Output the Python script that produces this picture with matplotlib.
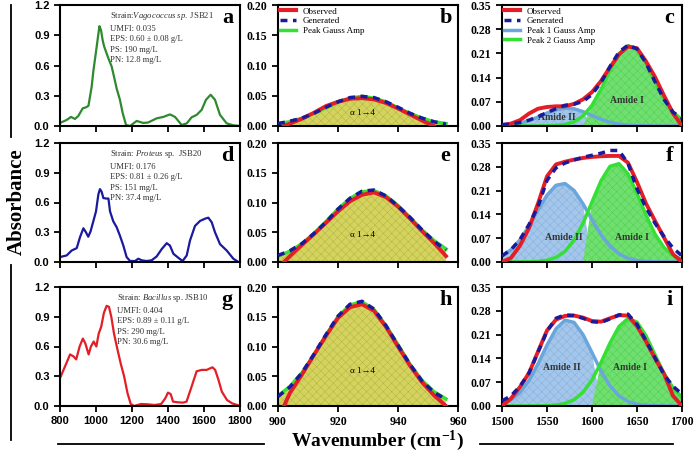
import numpy as np
import matplotlib.pyplot as plt
from matplotlib.lines import Line2D

plt.rcParams['mathtext.fontset'] = 'custom'
plt.rcParams['mathtext.rm'] = 'Liberation Serif'
plt.rcParams['mathtext.it'] = 'Liberation Serif:italic'
plt.rcParams['mathtext.bf'] = 'Liberation Serif:bold'
plt.rcParams['hatch.linewidth'] = 0.35

# ---- full FTIR spectra (left column) ----
wn_a = [800, 837, 861, 883, 902, 926, 944, 958, 976, 985, 1004, 1019, 1028, 1037, 1045,
        1059, 1069, 1087, 1100, 1115, 1133, 1148, 1167, 1189, 1226, 1263, 1290, 1337,
        1374, 1411, 1439, 1476, 1504, 1531, 1559, 1587, 1611, 1637, 1661, 1689, 1726,
        1763, 1800]
abs_a = [0.03, 0.06, 0.09, 0.07, 0.10, 0.175, 0.185, 0.20, 0.39, 0.54, 0.79, 0.99, 0.95,
         0.85, 0.79, 0.72, 0.67, 0.59, 0.49, 0.37, 0.26, 0.13, 0.01, 0.0, 0.05, 0.03,
         0.035, 0.076, 0.09, 0.115, 0.09, 0.01, 0.026, 0.086, 0.11, 0.16, 0.26, 0.31,
         0.26, 0.11, 0.026, 0.007, 0.0]

wn_d = [800, 837, 865, 893, 911, 930, 944, 957, 970, 985, 1000, 1013, 1022, 1031, 1041,
        1056, 1069, 1078, 1096, 1115, 1133, 1152, 1170, 1189, 1217, 1235, 1254, 1281,
        1309, 1337, 1365, 1393, 1411, 1430, 1457, 1481, 1504, 1522, 1550, 1578, 1606,
        1624, 1643, 1661, 1689, 1726, 1763, 1791, 1800]
abs_d = [0.05, 0.066, 0.116, 0.14, 0.25, 0.34, 0.30, 0.255, 0.31, 0.41, 0.51, 0.68, 0.735,
         0.71, 0.645, 0.64, 0.64, 0.51, 0.41, 0.35, 0.265, 0.165, 0.05, 0.01, 0.01, 0.033,
         0.017, 0.01, 0.017, 0.056, 0.13, 0.19, 0.165, 0.083, 0.043, 0.01, 0.066, 0.215,
         0.364, 0.414, 0.437, 0.447, 0.40, 0.30, 0.18, 0.116, 0.033, 0.0, 0.0]

wn_g = [800, 828, 856, 875, 890, 909, 927, 941, 959, 972, 987, 1002, 1015, 1029, 1044,
        1059, 1072, 1085, 1100, 1118, 1137, 1156, 1175, 1193, 1212, 1250, 1287, 1325,
        1362, 1385, 1400, 1415, 1428, 1456, 1484, 1503, 1531, 1559, 1587, 1615, 1634,
        1647, 1662, 1681, 1699, 1728, 1756, 1784, 1800]
abs_g = [0.28, 0.40, 0.52, 0.50, 0.47, 0.60, 0.68, 0.63, 0.52, 0.60, 0.65, 0.60, 0.73,
         0.80, 0.94, 1.01, 1.0, 0.90, 0.73, 0.58, 0.43, 0.30, 0.13, 0.02, 0.0, 0.02,
         0.017, 0.01, 0.02, 0.078, 0.135, 0.12, 0.044, 0.037, 0.034, 0.044, 0.195, 0.35,
         0.364, 0.364, 0.38, 0.39, 0.364, 0.26, 0.145, 0.06, 0.027, 0.01, 0.003]

# ---- alpha 1->4 band fits (middle column) ----
wn_fit = [900, 904, 908, 912, 916, 920, 924, 928, 932, 936, 940, 944, 948, 952, 956]
gauss_b = [0.004, 0.007, 0.013, 0.021, 0.030, 0.040, 0.046, 0.049, 0.046, 0.040, 0.030,
           0.021, 0.013, 0.007, 0.004]
gen_b = [0.004, 0.008, 0.013, 0.021, 0.031, 0.040, 0.047, 0.049, 0.047, 0.040, 0.031,
         0.021, 0.013, 0.007, 0.003]
wn_obs_b = [902, 904, 908, 912, 916, 920, 924, 928, 932, 936, 940, 944, 948, 952]
obs_b = [0.0, 0.004, 0.012, 0.022, 0.033, 0.040, 0.045, 0.046, 0.044, 0.038, 0.029,
         0.019, 0.009, 0.0]

gauss_e = [0.010, 0.018, 0.031, 0.048, 0.068, 0.089, 0.107, 0.118, 0.120, 0.111, 0.095,
           0.075, 0.054, 0.036, 0.022]
gen_e = [0.011, 0.019, 0.031, 0.048, 0.067, 0.089, 0.107, 0.119, 0.121, 0.111, 0.094,
         0.075, 0.054, 0.035, 0.020]
wn_obs = [902, 904, 908, 912, 916, 920, 924, 928, 932, 936, 940, 944, 948, 952, 956]
obs_e = [0.0, 0.010, 0.029, 0.047, 0.066, 0.085, 0.102, 0.113, 0.117, 0.109, 0.093,
         0.073, 0.052, 0.032, 0.010]

gauss_h = [0.017, 0.033, 0.056, 0.086, 0.119, 0.150, 0.170, 0.175, 0.162, 0.135, 0.103,
           0.070, 0.043, 0.024, 0.012]
gen_h = [0.016, 0.032, 0.056, 0.087, 0.120, 0.151, 0.171, 0.176, 0.163, 0.135, 0.102,
         0.070, 0.042, 0.023, 0.011]
obs_h = [0.0, 0.022, 0.053, 0.086, 0.118, 0.148, 0.166, 0.171, 0.160, 0.133, 0.100,
         0.068, 0.040, 0.018, 0.0]

# ---- amide band fits (right column) ----
wn_am = [1500, 1510, 1520, 1530, 1540, 1550, 1560, 1570, 1580, 1590, 1600, 1610, 1620,
         1630, 1640, 1650, 1660, 1670, 1680, 1690, 1700]
p1_c = [0.0015, 0.0037, 0.0081, 0.0155, 0.0258, 0.0373, 0.0471, 0.0519, 0.0498, 0.0416,
        0.0304, 0.0193, 0.0107, 0.0052, 0.0022, 0.0008, 0.0003, 0.0001, 0.0, 0.0, 0.0]
p2_c = [0.0, 0.0, 0.0, 0.0, 0.0001, 0.0004, 0.0013, 0.0043, 0.0121, 0.0291, 0.060, 0.106,
        0.161, 0.209, 0.232, 0.222, 0.182, 0.128, 0.077, 0.040, 0.018]
gen_c = [0.004, 0.006, 0.010, 0.017, 0.027, 0.039, 0.050, 0.060, 0.063, 0.071, 0.091,
         0.126, 0.172, 0.214, 0.234, 0.223, 0.182, 0.128, 0.077, 0.040, 0.022]
obs_c = [0.002, 0.007, 0.017, 0.036, 0.050, 0.055, 0.057, 0.057, 0.064, 0.077, 0.098,
         0.130, 0.170, 0.207, 0.230, 0.225, 0.187, 0.142, 0.088, 0.037, 0.0]

p1_f = [0.0176, 0.0359, 0.0652, 0.1056, 0.1526, 0.1965, 0.2255, 0.2308, 0.2105, 0.1712,
        0.1241, 0.0802, 0.0462, 0.0237, 0.0109, 0.0044, 0.0016, 0.0005, 0.0001, 0.0, 0.0]
p2_f = [0.0, 0.0, 0.0001, 0.0005, 0.0016, 0.005, 0.0134, 0.0313, 0.064, 0.1138, 0.1765,
        0.2387, 0.2814, 0.2892, 0.2591, 0.2024, 0.1379, 0.0819, 0.0424, 0.0191, 0.0075]
gen_f = [0.018, 0.036, 0.066, 0.110, 0.163, 0.240, 0.277, 0.291, 0.300, 0.308, 0.314,
         0.320, 0.328, 0.328, 0.290, 0.215, 0.160, 0.114, 0.075, 0.041, 0.018]
obs_f = [0.0, 0.012, 0.048, 0.100, 0.172, 0.252, 0.287, 0.295, 0.301, 0.306, 0.309,
         0.311, 0.312, 0.312, 0.292, 0.235, 0.172, 0.121, 0.072, 0.023, 0.0]

p1_i = [0.0075, 0.0184, 0.0397, 0.0748, 0.1237, 0.179, 0.227, 0.2525, 0.2459, 0.2099,
        0.1569, 0.1027, 0.059, 0.0296, 0.0131, 0.005, 0.0017, 0.0005, 0.0001, 0.0, 0.0]
p2_i = [0.0, 0.0, 0.0, 0.0, 0.0002, 0.0008, 0.0026, 0.0074, 0.0185, 0.0404, 0.0769,
        0.1278, 0.1851, 0.2338, 0.2573, 0.2469, 0.2067, 0.1507, 0.0958, 0.0531, 0.0257]
gen_i = [0.015, 0.030, 0.058, 0.097, 0.158, 0.220, 0.258, 0.268, 0.266, 0.258, 0.248,
         0.246, 0.256, 0.268, 0.270, 0.240, 0.192, 0.142, 0.092, 0.058, 0.035]
obs_i = [0.0, 0.022, 0.056, 0.097, 0.160, 0.222, 0.254, 0.265, 0.266, 0.260, 0.250,
         0.248, 0.258, 0.267, 0.266, 0.235, 0.190, 0.140, 0.095, 0.030, 0.0]

strain_text = [
    'Strain:$\\it{Vagococcus\\ sp.}$ JSB21\nUMFI: 0.035\nEPS: 0.60 ± 0.08 g/L\nPS: 190 mg/L\nPN: 12.8 mg/L',
    'Strain: $\\it{Proteus}$ sp.  JSB20\nUMFI: 0.176\nEPS: 0.81 ± 0.26 g/L\nPS: 151 mg/L\nPN: 37.4 mg/L',
    'Strain: $\\it{Bacillus}$ sp. JSB10\nUMFI: 0.404\nEPS: 0.89 ± 0.11 g/L\nPS: 290 mg/L\nPN: 30.6 mg/L',
]

RED = '#e41e26'
NAVY = '#1a1a9c'
GREEN = '#35e035'
LBLUE = '#6aa6dc'
SERIF = ['Liberation Serif', 'DejaVu Serif']

W, H = 696, 455
fig = plt.figure(figsize=(W / 100, H / 100), dpi=100)


def add_ax(x0, y0, w, h):
    return fig.add_axes([x0 / W, 1 - (y0 + h) / H, w / W, h / H])


def style(ax, serif, bottom_labels):
    for s in ax.spines.values():
        s.set_linewidth(1.5)
    ax.tick_params(direction='out', length=4, width=1.3, labelbottom=bottom_labels)
    for lab in ax.get_xticklabels() + ax.get_yticklabels():
        if serif:
            lab.set_fontfamily('Liberation Serif')
            lab.set_fontsize(8.5)
        else:
            lab.set_fontfamily('Liberation Sans')
            lab.set_fontsize(8)
        lab.set_fontweight('bold')


rows = [(5, 121), (143, 119), (287, 119)]
cols = [60, 278, 502]

spectra = [(wn_a, abs_a, '#2f8a2f'), (wn_d, abs_d, NAVY), (wn_g, abs_g, RED)]
fits2 = [(gauss_b, gen_b, wn_obs_b, obs_b, 0.021),
         (gauss_e, gen_e, wn_obs, obs_e, 0.046),
         (gauss_h, gen_h, wn_obs, obs_h, 0.059)]
fits3 = [(p1_c, p2_c, gen_c, obs_c, (1561, 0.024), (1639, 0.073)),
         (p1_f, p2_f, gen_f, obs_f, (1569, 0.073), (1644, 0.073)),
         (p1_i, p2_i, gen_i, obs_i, (1567, 0.114), (1642, 0.114))]
letters = ['a', 'b', 'c', 'd', 'e', 'f', 'g', 'h', 'i']
text_x = [0.28, 0.28, 0.317]

for r, (y0, h) in enumerate(rows):
    last = r == 2
    # left column: spectrum
    ax = add_ax(cols[0], y0, 180, h)
    wn, ab, col = spectra[r]
    ax.plot(wn, ab, color=col, lw=1.6)
    ax.set_xlim(800, 1800)
    ax.set_ylim(0, 1.2)
    ax.set_xticks([800, 1000, 1200, 1400, 1600, 1800])
    ax.set_yticks([0.0, 0.3, 0.6, 0.9, 1.2])
    ax.set_yticklabels(['0.0', '0.3', '0.6', '0.9', '1.2'])
    style(ax, False, last)
    ax.text(text_x[r], 0.955, strain_text[r], transform=ax.transAxes, family=SERIF,
            fontsize=6.2, va='top', ha='left', linespacing=1.4, color='#333333')
    ax.text(0.93, 0.89, letters[3 * r], transform=ax.transAxes, family=SERIF,
            fontsize=16, fontweight='bold', ha='center', va='center')

    # middle column: alpha 1->4
    ax = add_ax(cols[1], y0, 180, h)
    gauss, gen, wn_o, obs, ty = fits2[r]
    ax.fill_between(wn_fit, 0, gauss, facecolor='#d3d35e', edgecolor='#b4b446',
                    hatch='xxxx', lw=0, zorder=1)
    ax.plot(wn_fit, gauss, color=GREEN, lw=2.5, zorder=2)
    ax.plot(wn_o, obs, color=RED, lw=2.8, zorder=3)
    ax.plot(wn_fit, gen, color=NAVY, lw=2.5, dashes=(2, 1.6), zorder=4)
    ax.text(928, ty, 'α 1→4', family=SERIF, fontsize=6.5, ha='center', va='center')
    ax.set_xlim(900, 960)
    ax.set_ylim(0, 0.2)
    ax.set_xticks([900, 920, 940, 960])
    ax.set_yticks([0.0, 0.05, 0.10, 0.15, 0.20])
    ax.set_yticklabels(['0.00', '0.05', '0.10', '0.15', '0.20'])
    style(ax, True, last)
    ax.text(0.93, 0.89, letters[3 * r + 1], transform=ax.transAxes, family=SERIF,
            fontsize=16, fontweight='bold', ha='center', va='center')
    if r == 0:
        hd = [Line2D([], [], color=RED, lw=3),
              Line2D([], [], color=NAVY, lw=2.5, dashes=(2, 1.6)),
              Line2D([], [], color=GREEN, lw=2.5)]
        ax.legend(hd, ['Observed', 'Generated', 'Peak Gauss Amp'], loc='upper left',
                  frameon=False, prop={'family': 'Liberation Serif', 'size': 6.5},
                  handlelength=1.7, handletextpad=0.8, labelspacing=0.15,
                  borderaxespad=0.15, borderpad=0.1)

    # right column: amide bands
    ax = add_ax(cols[2], y0, 180, h)
    p1, p2, gen, obs, t1, t2 = fits3[r]
    a1 = np.array(p1)
    a2 = np.array(p2)
    ax.fill_between(wn_am, 0, a1, where=a1 >= a2, interpolate=True, facecolor='#a3c6ea',
                    edgecolor='#86b0dc', hatch='xxxx', lw=0, zorder=1)
    ax.fill_between(wn_am, 0, a2, where=a2 >= a1, interpolate=True, facecolor='#6fe06f',
                    edgecolor='#52cc52', hatch='xxxx', lw=0, zorder=1)
    ax.plot(wn_am, p1, color=LBLUE, lw=2.5, zorder=2)
    ax.plot(wn_am, p2, color=GREEN, lw=2.5, zorder=2)
    ax.plot(wn_am, obs, color=RED, lw=2.8, zorder=3)
    ax.plot(wn_am, gen, color=NAVY, lw=2.5, dashes=(2, 1.6), zorder=4)
    ax.text(t1[0], t1[1], 'Amide II', family=SERIF, fontsize=7, fontweight='bold',
            ha='center', va='center', color='#333333')
    ax.text(t2[0], t2[1], 'Amide I', family=SERIF, fontsize=7, fontweight='bold',
            ha='center', va='center', color='#333333')
    ax.set_xlim(1500, 1700)
    ax.set_ylim(0, 0.35)
    ax.set_xticks([1500, 1550, 1600, 1650, 1700])
    ax.set_yticks([0.0, 0.07, 0.14, 0.21, 0.28, 0.35])
    ax.set_yticklabels(['0.00', '0.07', '0.14', '0.21', '0.28', '0.35'])
    style(ax, True, last)
    ax.text(0.93, 0.89, letters[3 * r + 2], transform=ax.transAxes, family=SERIF,
            fontsize=16, fontweight='bold', ha='center', va='center')
    if r == 0:
        hd = [Line2D([], [], color=RED, lw=3),
              Line2D([], [], color=NAVY, lw=2.5, dashes=(2, 1.6)),
              Line2D([], [], color=LBLUE, lw=2.5),
              Line2D([], [], color=GREEN, lw=2.5)]
        ax.legend(hd, ['Observed', 'Generated', 'Peak 1 Gauss Amp', 'Peak 2 Gauss Amp'],
                  loc='upper left', frameon=False,
                  prop={'family': 'Liberation Serif', 'size': 6.5},
                  handlelength=1.7, handletextpad=0.8, labelspacing=0.15,
                  borderaxespad=0.15, borderpad=0.1)

# axis titles with the bracket lines
fig.text(17 / W, 1 - 202 / H, 'Absorbance', rotation=90, family=SERIF, fontsize=15,
         fontweight='bold', ha='center', va='center')
fig.add_artist(Line2D([11 / W, 11 / W], [1 - 5 / H, 1 - 137 / H], color='black', lw=1.3))
fig.add_artist(Line2D([11 / W, 11 / W], [1 - 265 / H, 1 - 440 / H], color='black', lw=1.3))
fig.text(377 / W, 1 - 441 / H, 'Wavenumber (cm$^{\\mathbf{-1}}$)', family=SERIF,
         fontsize=14, fontweight='bold', ha='center', va='center')
fig.add_artist(Line2D([58 / W, 264 / W], [1 - 444 / H, 1 - 444 / H], color='black', lw=1.3))
fig.add_artist(Line2D([480 / W, 673 / W], [1 - 444 / H, 1 - 444 / H], color='black', lw=1.3))

fig.savefig('out.png', dpi=100)
